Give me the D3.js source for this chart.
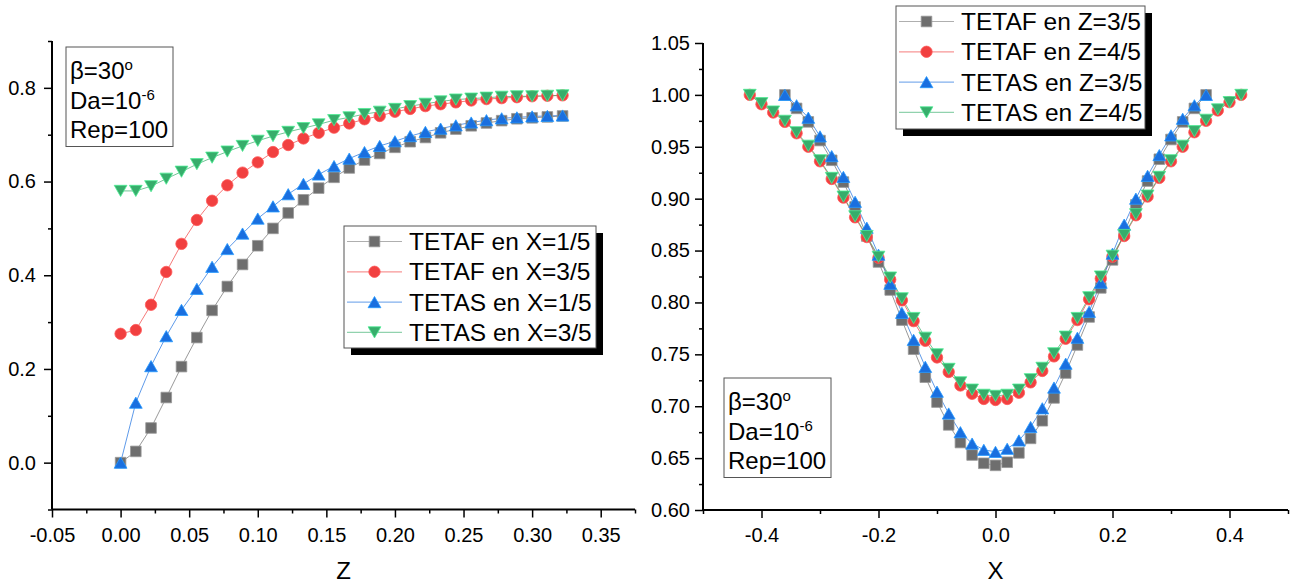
<!DOCTYPE html>
<html>
<head>
<meta charset="utf-8">
<script src="https://cdn.jsdelivr.net/npm/d3@7"></script>
<style>
  html, body { margin: 0; padding: 0; background: #fff; }
  svg { display: block; }
  text { font-family: "Liberation Sans", Arial, sans-serif; fill: #000; }
</style>
</head>
<body>
<svg id="chart" width="1290" height="586"></svg>
<script>
// ---------------- DATA ----------------
// Left panel: profiles along Z
const zValues = [0, 0.0111, 0.0222, 0.0333, 0.0444, 0.0556, 0.0667, 0.0778, 0.0889, 0.1,
  0.1111, 0.1222, 0.1333, 0.1444, 0.1556, 0.1667, 0.1778, 0.1889, 0.2, 0.2111,
  0.2222, 0.2333, 0.2444, 0.2556, 0.2667, 0.2778, 0.2889, 0.3, 0.3111, 0.3222];
const tetafX15 = [0.000, 0.024, 0.074, 0.139, 0.205, 0.267, 0.325, 0.376, 0.423, 0.463,
  0.500, 0.533, 0.561, 0.586, 0.609, 0.629, 0.646, 0.660, 0.673, 0.685,
  0.694, 0.704, 0.712, 0.719, 0.725, 0.730, 0.734, 0.736, 0.738, 0.740];
const tetafX35 = [0.275, 0.283, 0.337, 0.407, 0.467, 0.518, 0.559, 0.592, 0.619, 0.641,
  0.663, 0.678, 0.692, 0.704, 0.715, 0.724, 0.733, 0.740, 0.749, 0.755,
  0.761, 0.765, 0.769, 0.773, 0.776, 0.778, 0.780, 0.782, 0.783, 0.784];
const tetasX15 = [0.000, 0.128, 0.206, 0.270, 0.326, 0.371, 0.418, 0.456, 0.489, 0.521,
  0.547, 0.573, 0.595, 0.615, 0.633, 0.649, 0.663, 0.676, 0.686, 0.697,
  0.706, 0.713, 0.720, 0.726, 0.731, 0.735, 0.737, 0.739, 0.740, 0.741];
const tetasX35 = [0.580, 0.580, 0.590, 0.606, 0.621, 0.637, 0.651, 0.664, 0.676, 0.687,
  0.697, 0.706, 0.714, 0.722, 0.731, 0.737, 0.744, 0.749, 0.755, 0.761,
  0.766, 0.771, 0.775, 0.777, 0.779, 0.781, 0.782, 0.782, 0.783, 0.784];

// Right panel: profiles along X
const xNarrow = [-0.36, -0.34, -0.32, -0.30, -0.28, -0.26, -0.24, -0.22, -0.20, -0.18,
  -0.16, -0.14, -0.12, -0.10, -0.08, -0.06, -0.04, -0.02, 0.00, 0.02,
  0.04, 0.06, 0.08, 0.10, 0.12, 0.14, 0.16, 0.18, 0.20, 0.22,
  0.24, 0.26, 0.28, 0.30, 0.32, 0.34, 0.36];
const xWide = [-0.42, -0.40, -0.38, -0.36, -0.34, -0.32, -0.30, -0.28, -0.26, -0.24,
  -0.22, -0.20, -0.18, -0.16, -0.14, -0.12, -0.10, -0.08, -0.06, -0.04,
  -0.02, 0.00, 0.02, 0.04, 0.06, 0.08, 0.10, 0.12, 0.14, 0.16,
  0.18, 0.20, 0.22, 0.24, 0.26, 0.28, 0.30, 0.32, 0.34, 0.36,
  0.38, 0.40, 0.42];
const tetafZ35 = [1.000, 0.987, 0.974, 0.956, 0.937, 0.916, 0.892, 0.864, 0.839, 0.812,
  0.783, 0.755, 0.728, 0.704, 0.682, 0.665, 0.653, 0.645, 0.643, 0.646,
  0.655, 0.669, 0.686, 0.708, 0.732, 0.759, 0.786, 0.814, 0.841, 0.867,
  0.894, 0.917, 0.938, 0.957, 0.974, 0.987, 1.000];
const tetasZ35 = [1.000, 0.990, 0.978, 0.960, 0.941, 0.921, 0.897, 0.872, 0.846, 0.818,
  0.790, 0.764, 0.738, 0.714, 0.693, 0.675, 0.664, 0.658, 0.656, 0.659,
  0.667, 0.680, 0.698, 0.718, 0.741, 0.766, 0.791, 0.819, 0.847, 0.875,
  0.900, 0.922, 0.942, 0.961, 0.977, 0.990, 1.000];
const tetafZ45 = [1.000, 0.991, 0.983, 0.974, 0.963, 0.950, 0.936, 0.919, 0.901, 0.882,
  0.863, 0.843, 0.822, 0.802, 0.782, 0.763, 0.747, 0.733, 0.720, 0.712,
  0.707, 0.706, 0.707, 0.713, 0.723, 0.734, 0.748, 0.765, 0.783, 0.803,
  0.823, 0.844, 0.864, 0.884, 0.902, 0.920, 0.936, 0.950, 0.964, 0.975,
  0.985, 0.993, 1.000];
const tetasZ45 = [1.000, 0.992, 0.984, 0.975, 0.964, 0.951, 0.937, 0.920, 0.902, 0.883,
  0.864, 0.844, 0.824, 0.804, 0.785, 0.766, 0.750, 0.736, 0.723, 0.716,
  0.711, 0.710, 0.711, 0.716, 0.726, 0.737, 0.751, 0.767, 0.785, 0.805,
  0.825, 0.845, 0.865, 0.885, 0.903, 0.921, 0.937, 0.951, 0.965, 0.976,
  0.986, 0.993, 1.000];

// Tick values
const leftXMajor = [-0.05, 0, 0.05, 0.1, 0.15, 0.2, 0.25, 0.3, 0.35];
const leftXMinor = [-0.025, 0.025, 0.075, 0.125, 0.175, 0.225, 0.275, 0.325, 0.375];
const leftYMajor = [0, 0.2, 0.4, 0.6, 0.8];
const leftYMinor = [-0.1, 0.1, 0.3, 0.5, 0.7, 0.9];
const rightXMajor = [-0.4, -0.2, 0, 0.2, 0.4];
const rightXMinor = [-0.5, -0.3, -0.1, 0.1, 0.3, 0.5];
const rightYMajor = [0.60, 0.65, 0.70, 0.75, 0.80, 0.85, 0.90, 0.95, 1.00, 1.05];
const rightYMinor = [0.625, 0.675, 0.725, 0.775, 0.825, 0.875, 0.925, 0.975, 1.025];

const leftNames = ["TETAF en X=1/5", "TETAF en X=3/5", "TETAS en X=1/5", "TETAS en X=3/5"];
const rightNames = ["TETAF en Z=3/5", "TETAF en Z=4/5", "TETAS en Z=3/5", "TETAS en Z=4/5"];
const colors = ["#6e6e6e", "#f14040", "#1a6fdf", "#37ad6b"];
const shapes = ["square", "circle", "triangleUp", "triangleDown"];

// ---------------- DRAW ----------------
const svg = d3.select("#chart");
const FONT_TICK = 20;

function shapePath(shape) {
  if (shape === "square") return "M-5.3,-5.3H5.3V5.3H-5.3Z";
  if (shape === "circle") return "M5.7,0A5.7,5.7,0,1,1,-5.7,0A5.7,5.7,0,1,1,5.7,0Z";
  if (shape === "triangleUp") return "M0,-5.6L6.4,5.6L-6.4,5.6Z";
  return "M0,5.6L6.4,-5.6L-6.4,-5.6Z";
}

function drawPanel(cfg) {
  const x = d3.scaleLinear().domain(cfg.xDomain).range(cfg.xRange);
  const y = d3.scaleLinear().domain(cfg.yDomain).range(cfg.yRange);
  const g = svg.append("g");
  const axisY0 = cfg.yRange[0];
  const axisX0 = cfg.xRange[0];

  // minor ticks
  g.append("g").attr("transform", `translate(0,${axisY0})`)
    .call(d3.axisBottom(x).tickValues(cfg.xMinor).tickSize(4).tickSizeOuter(0).tickFormat(""))
    .call(s => s.select(".domain").remove())
    .call(s => s.selectAll("line").attr("stroke", "#000").attr("stroke-width", 1.5));
  g.append("g").attr("transform", `translate(${axisX0},0)`)
    .call(d3.axisLeft(y).tickValues(cfg.yMinor).tickSize(4).tickSizeOuter(0).tickFormat(""))
    .call(s => s.select(".domain").remove())
    .call(s => s.selectAll("line").attr("stroke", "#000").attr("stroke-width", 1.5));

  // major axes
  const xa = g.append("g").attr("transform", `translate(0,${axisY0})`)
    .call(d3.axisBottom(x).tickValues(cfg.xMajor).tickSize(8).tickSizeOuter(0).tickPadding(10)
      .tickFormat(d => d3.format(cfg.xFmt)(d).replace("\u2212", "-")));
  const ya = g.append("g").attr("transform", `translate(${axisX0},0)`)
    .call(d3.axisLeft(y).tickValues(cfg.yMajor).tickSize(8).tickSizeOuter(0).tickPadding(cfg.yPad)
      .tickFormat(d => d3.format(cfg.yFmt)(d).replace("\u2212", "-")));
  [xa, ya].forEach(a => {
    a.select(".domain").attr("stroke", "#000").attr("stroke-width", 2);
    a.selectAll(".tick line").attr("stroke", "#000").attr("stroke-width", 1.5);
    a.selectAll("text").attr("font-size", FONT_TICK).attr("fill", "#000")
      .attr("font-family", '"Liberation Sans", Arial, sans-serif');
  });
  xa.select(".domain").attr("d", `M${cfg.xRange[0]},0H${cfg.xRange[1]}`);
  ya.select(".domain").attr("d", `M0,${cfg.yRange[0]}V${cfg.yRange[1]}`);

  // axis title
  g.append("text").attr("x", (cfg.xRange[0] + cfg.xRange[1]) / 2).attr("y", cfg.titleY)
    .attr("text-anchor", "middle").attr("font-size", 24).text(cfg.xTitle);

  // series lines
  cfg.series.forEach((s, i) => {
    const pts = s.x.map((xv, k) => [xv, s.y[k]]);
    const line = d3.line().x(d => x(d[0])).y(d => y(d[1]));
    g.append("path").attr("d", line(pts)).attr("fill", "none")
      .attr("stroke", colors[i]).attr("stroke-opacity", 0.7).attr("stroke-width", 1);
  });
  // series markers
  cfg.series.forEach((s, i) => {
    const pts = s.x.map((xv, k) => [xv, s.y[k]]);
    const stroke = d3.color(colors[i]).brighter(0.9).formatHex();
    g.append("g").selectAll("path").data(pts).join("path")
      .attr("d", shapePath(shapes[i]))
      .attr("transform", d => `translate(${x(d[0])},${y(d[1])})`)
      .attr("fill", colors[i]).attr("stroke", stroke).attr("stroke-width", 0.8);
  });

  // legend
  const L = cfg.legend;
  g.append("rect").attr("x", L.x + 7).attr("y", L.y + 7).attr("width", L.w).attr("height", L.h).attr("fill", "#000");
  g.append("rect").attr("x", L.x).attr("y", L.y).attr("width", L.w).attr("height", L.h)
    .attr("fill", "#fff").attr("stroke", "#555").attr("stroke-width", 1);
  cfg.names.forEach((n, i) => {
    const cy = L.y + 15.5 + i * 30.3;
    g.append("line").attr("x1", L.x + 3).attr("x2", L.x + 58).attr("y1", cy).attr("y2", cy)
      .attr("stroke", colors[i]).attr("stroke-opacity", 0.55).attr("stroke-width", 1.2);
    g.append("path").attr("d", shapePath(shapes[i])).attr("transform", `translate(${L.x + 30.5},${cy})`)
      .attr("fill", colors[i]).attr("stroke", d3.color(colors[i]).brighter(0.9).formatHex()).attr("stroke-width", 0.8);
    g.append("text").attr("x", L.x + 65).attr("y", cy + 8.5).attr("font-size", 24.5).text(n);
  });

  // annotation box
  const A = cfg.note;
  g.append("rect").attr("x", A.x).attr("y", A.y).attr("width", 107).attr("height", 99.5)
    .attr("fill", "#fff").attr("stroke", "#555").attr("stroke-width", 1);
  const t1 = g.append("text").attr("x", A.x + 4).attr("y", A.y + 32).attr("font-size", 24);
  t1.append("tspan").text("\u03B2=30");
  t1.append("tspan").attr("font-size", 15).attr("dy", -9).text("o");
  const t2 = g.append("text").attr("x", A.x + 4).attr("y", A.y + 61.5).attr("font-size", 24);
  t2.append("tspan").text("Da=10");
  t2.append("tspan").attr("font-size", 15).attr("dy", -9).text("-6");
  g.append("text").attr("x", A.x + 4).attr("y", A.y + 91).attr("font-size", 24).text("Rep=100");
}

drawPanel({
  xDomain: [-0.05, 0.375], xRange: [52, 635],
  yDomain: [-0.1, 0.9], yRange: [509.5, 41],
  xMajor: leftXMajor, xMinor: leftXMinor, yMajor: leftYMajor, yMinor: leftYMinor,
  xFmt: ".2f", yFmt: ".1f", xTitle: "Z", titleY: 579, yPad: 8,
  series: [
    { x: zValues, y: tetafX15 },
    { x: zValues, y: tetafX35 },
    { x: zValues, y: tetasX15 },
    { x: zValues, y: tetasX35 }
  ],
  names: leftNames,
  legend: { x: 344, y: 226, w: 252, h: 122 },
  note: { x: 66, y: 47 }
});

drawPanel({
  xDomain: [-0.5, 0.5], xRange: [703, 1288],
  yDomain: [0.6, 1.05], yRange: [510, 43],
  xMajor: rightXMajor, xMinor: rightXMinor, yMajor: rightYMajor, yMinor: rightYMinor,
  xFmt: ".1f", yFmt: ".2f", xTitle: "X", titleY: 579, yPad: 5,
  series: [
    { x: xNarrow, y: tetafZ35 },
    { x: xWide, y: tetafZ45 },
    { x: xNarrow, y: tetasZ35 },
    { x: xWide, y: tetasZ45 }
  ],
  names: rightNames,
  legend: { x: 896, y: 6, w: 249, h: 123 },
  note: { x: 724, y: 378 }
});
</script>
</body>
</html>
